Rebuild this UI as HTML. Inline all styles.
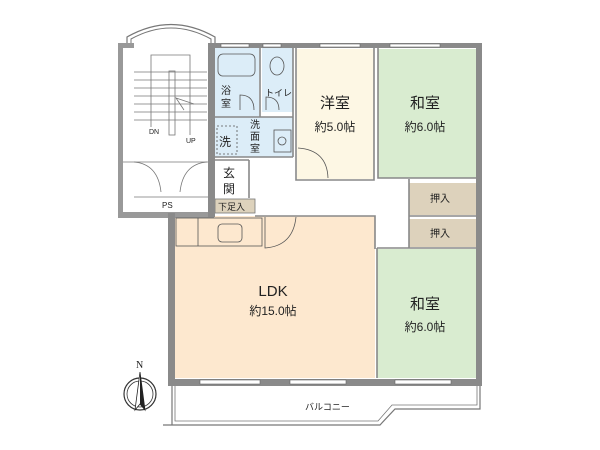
<!DOCTYPE html>
<html><head><meta charset="utf-8"><style>
html,body{margin:0;padding:0;background:#fff;width:600px;height:450px;overflow:hidden}
svg{display:block}
text{font-family:"Liberation Sans","Noto Sans CJK JP",sans-serif;fill:#222}
</style></head><body>
<svg width="600" height="450" viewBox="0 0 600 450" xmlns="http://www.w3.org/2000/svg">
<rect x="215" y="47" width="44" height="70" fill="#dcedf8"/>
<rect x="262" y="47" width="31" height="65" fill="#dcedf8"/>
<rect x="215" y="117" width="78" height="40" fill="#dcedf8"/>
<rect x="297" y="49" width="77" height="130" fill="#fdf7e4"/>
<rect x="378" y="49" width="98" height="129" fill="#d9ecd0"/>
<rect x="409" y="183" width="67" height="32" fill="#ddd2bc"/>
<rect x="409" y="219" width="67" height="28" fill="#ddd2bc"/>
<rect x="377" y="249" width="99" height="129" fill="#d9ecd0"/>
<rect x="175" y="216" width="200" height="162" fill="#fde8cf"/>
<rect x="215" y="199" width="40" height="14" fill="#ddd2bc" stroke="#777" stroke-width="0.8"/>
<path d="M127 47 L127 37 Q171 12 215 37 L215 47" fill="none" stroke="#777" stroke-width="1.2"/>
<path d="M131 47 L131 39 Q171 17 211 39 L211 47" fill="none" stroke="#777" stroke-width="1"/>
<rect x="118" y="43" width="16" height="5" fill="#999"/>
<rect x="118" y="43" width="5" height="175" fill="#999"/>
<rect x="118" y="212" width="96" height="6" fill="#999"/>
<rect x="208" y="43" width="6" height="175" fill="#999"/>
<g stroke="#777" stroke-width="0.8" fill="none">
<path d="M134 72 H207 M134 80 H207 M134 88 H207 M134 96 H207 M134 104 H207 M134 112 H207 M134 120 H207"/>
<rect x="169" y="71" width="6" height="64"/>
<path d="M151 127 V55 H190 V135"/>
<path d="M184 110 L176 98 L194 104"/>
<path d="M123 162 H208 M134 197 H208"/>
<path d="M134 162 Q158 164 161 192 M207 162 Q183 164 180 192"/>
</g>
<text x="149" y="134" font-size="7">DN</text>
<text x="186" y="143" font-size="7">UP</text>
<text x="162" y="208" font-size="8">PS</text>
<g fill="#8a8a8a">
<rect x="208" y="43" width="273" height="5"/>
<rect x="476" y="43" width="6" height="343"/>
<rect x="168" y="213" width="7" height="173"/>
<rect x="168" y="379" width="314" height="7"/>
<rect x="208" y="43" width="7" height="174"/>
</g>
<g fill="#fff" stroke="#666" stroke-width="0.6">
<rect x="221" y="44" width="28" height="3"/><rect x="263" y="44" width="18" height="3"/>
<rect x="320" y="44" width="40" height="3"/><rect x="390" y="44" width="50" height="3"/>
<rect x="200" y="380" width="60" height="4"/><rect x="290" y="380" width="56" height="4"/>
<rect x="395" y="380" width="56" height="4"/>
</g>
<g stroke="#888" stroke-width="1.6" fill="none">
<path d="M260 48 V117 M215 117 H293 M293 48 V157 M215 157 H293"/>
<path d="M249 160 V198 M296 48 V180 H374 V48 M378 48 V178 H476"/>
<path d="M255 216 H375 V249 M409 179 V248 M409 216 H476 M377 248 H476 M377 248 V378"/>
<path d="M215 160 H249"/>
</g>
<g stroke="#555" stroke-width="0.8" fill="none">
<rect x="218" y="54" width="37" height="22" rx="5"/>
<ellipse cx="277" cy="66" rx="7" ry="9"/>
<path d="M240 110 V95 Q254 95 254 110 M266 110 V97 Q279 97 279 110"/>
<rect x="217" y="126" width="20" height="28" stroke-dasharray="2 2"/>
<rect x="274" y="130" width="17" height="22"/>
<circle cx="282" cy="141" r="4"/>
<path d="M298 148 Q327 150 328 178"/>
<path d="M265 217 V248 Q293 246 296 217"/>
<rect x="176" y="218" width="86" height="28"/>
<rect x="218" y="224" width="24" height="18" rx="4"/>
<path d="M198 218 V246"/>
</g>
<path d="M172 386 V425 M163 425 H380 L395 409 H480 V386" fill="none" stroke="#777" stroke-width="1.2"/>
<path d="M175 386 V421 H378 L392 405 H477 V386" fill="none" stroke="#777" stroke-width="0.8"/>
<text x="305" y="410" font-size="9">バルコニー</text>
<circle cx="140" cy="394" r="16" fill="none" stroke="#333" stroke-width="1.2"/>
<circle cx="140" cy="394" r="13" fill="none" stroke="#333" stroke-width="0.8"/>
<path d="M140 372 L145 410 L140 404 L135 410 Z" fill="#fff" stroke="#222" stroke-width="0.8"/>
<path d="M140 372 L140 404 L145 410 Z" fill="#222"/>
<text x="136" y="368" font-size="10" style="font-family:'Liberation Serif',serif">N</text>
<g font-size="10">
<text x="221" y="94">浴</text><text x="221" y="107">室</text>
<text x="265" y="96" font-size="9">トイレ</text>
<text x="250" y="128">洗</text><text x="250" y="140">面</text><text x="250" y="152">室</text>
<text x="219" y="146" font-size="12">洗</text>
<text x="223" y="177" font-size="12">玄</text><text x="223" y="193" font-size="12">関</text>
<text x="218" y="210" font-size="9">下足入</text>
<text x="430" y="202">押入</text><text x="430" y="237">押入</text>
</g>
<g font-size="15" text-anchor="middle">
<text x="335" y="108">洋室</text><text x="425" y="108">和室</text>
<text x="273" y="296">LDK</text><text x="425" y="309">和室</text>
</g>
<g font-size="12" text-anchor="middle">
<text x="335" y="131">約5.0帖</text><text x="425" y="131">約6.0帖</text>
<text x="273" y="315">約15.0帖</text><text x="425" y="331">約6.0帖</text>
</g>
</svg>
</body></html>
